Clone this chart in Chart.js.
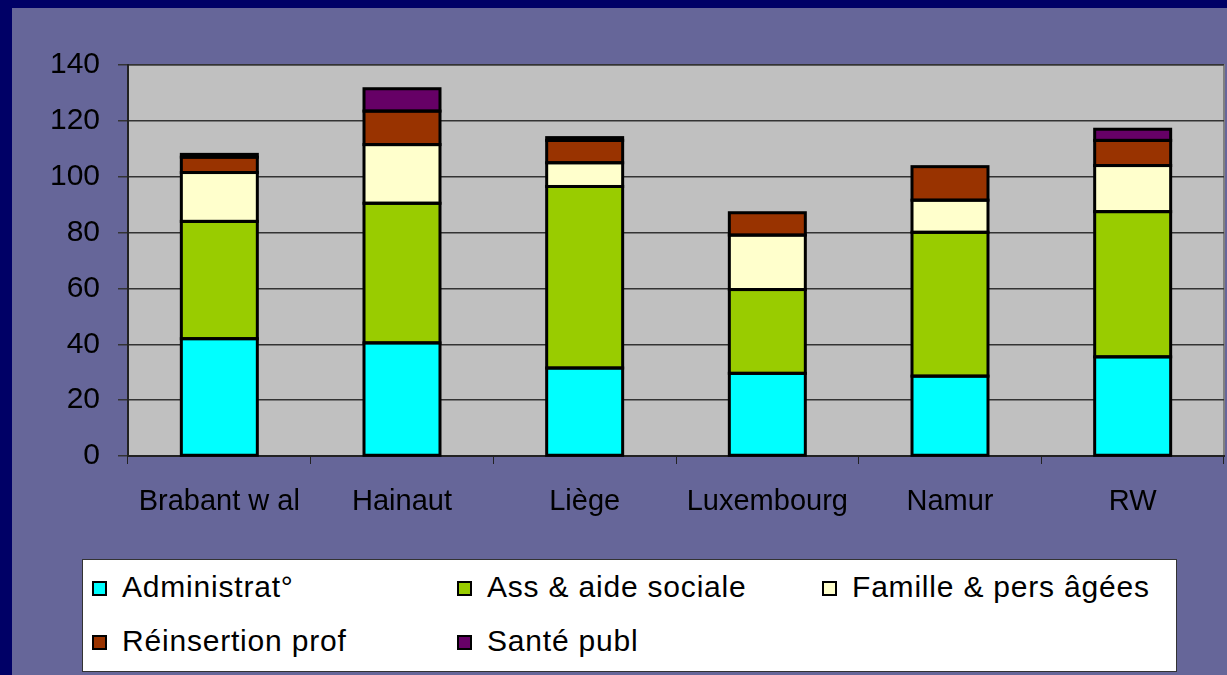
<!DOCTYPE html>
<html>
<head>
<meta charset="utf-8">
<script src="https://cdn.jsdelivr.net/npm/chart.js@4"></script>
<style>
  html, body { margin: 0; padding: 0; }
  body { width: 1227px; height: 675px; background: #000066; position: relative; overflow: hidden; font-family: "Liberation Sans", Arial, sans-serif; }
  #fond { position: absolute; left: 12px; top: 8px; right: 0; bottom: 0; background: #666699; }
  #wrap { position: absolute; left: 0; top: 0; width: 1227px; height: 675px; }
  #legende { position: absolute; left: 82px; top: 559px; width: 1093px; height: 111px; background: #fff; border: 1px solid #333; }
  .item { position: absolute; font-size: 30px; color: #000; line-height: 32px; white-space: nowrap; letter-spacing: 0.8px; }
  .item span { display: inline-block; width: 11px; height: 11px; border: 2px solid #000; margin-right: 15px; vertical-align: 1px; }
</style>
</head>
<body>
<div id="fond"></div>
<div id="wrap"><canvas id="myChart" width="1227" height="675"></canvas></div>
<div id="legende"></div>
<script>
/* données du graphique */
const provinces = ["Brabant w al", "Hainaut", "Liège", "Luxembourg", "Namur", "RW"];
const administration = [42, 40.5, 31.5, 29.6, 28.6, 35.5];
const assAideSociale = [42, 50, 65, 30, 51.5, 52];
const famillePersAgees = [17.5, 21, 8.5, 19.5, 11.5, 16.5];
const reinsertionProf = [5.5, 12, 8, 8, 12, 9];
const santePubl = [1, 8, 1, 0, 0, 4];
const yTicks = [0, 20, 40, 60, 80, 100, 120, 140];

const series = [
	{ label: "Administrat°", data: administration, color: "#00FFFF" },
	{ label: "Ass & aide sociale", data: assAideSociale, color: "#99CC00" },
	{ label: "Famille & pers âgées", data: famillePersAgees, color: "#FFFFCC" },
	{ label: "Réinsertion prof", data: reinsertionProf, color: "#993300" },
	{ label: "Santé publ", data: santePubl, color: "#660066" }
];

// fond gris de la zone de tracé
const fondGris = {
	id: "fondGris",
	beforeDraw(chart) {
		const a = chart.chartArea;
		const c = chart.ctx;
		c.save();
		c.fillStyle = "#C0C0C0";
		c.fillRect(a.left, a.top, a.right - a.left, a.bottom - a.top);
		c.strokeStyle = "#808080";
		c.lineWidth = 2;
		c.beginPath();
		c.moveTo(a.left, a.top);
		c.lineTo(a.right, a.top);
		c.lineTo(a.right, a.bottom);
		c.stroke();
		c.restore();
	}
};

// contour noir de chaque segment
const contours = {
	id: "contours",
	afterDatasetsDraw(chart) {
		const c = chart.ctx;
		c.save();
		c.strokeStyle = "#000";
		c.lineWidth = 3;
		chart.data.datasets.forEach((ds, i) => {
			chart.getDatasetMeta(i).data.forEach((bar, j) => {
				if (!ds.data[j]) return;
				const p = bar.getProps(["x", "y", "base", "width"], true);
				c.strokeRect(p.x - p.width / 2, p.y, p.width, p.base - p.y);
			});
		});
		c.restore();
	}
};

const ctx = document.getElementById("myChart").getContext("2d");
let myChart = new Chart(ctx, {
	type: "bar",
	data: {
		labels: provinces,
		datasets: series.map(s => ({
			label: s.label,
			data: s.data,
			backgroundColor: s.color,
			borderWidth: 0,
			inflateAmount: 0,
			categoryPercentage: 1,
			barPercentage: 0.416
		}))
	},
	options: {
		responsive: false,
		animation: false,
		layout: { padding: { left: 0, top: 65, right: 3, bottom: 149 } },
		plugins: { legend: { display: false }, tooltip: { enabled: false } },
		scales: {
			x: {
				stacked: true,
				offset: true,
				afterFit: s => { s.height = 70; },
				grid: { offset: true, drawOnChartArea: false, drawTicks: true, tickLength: 8, color: "#222", lineWidth: 1 },
				border: { display: true, color: "#222", width: 2 },
				ticks: { color: "#000", padding: 21, font: { family: "Liberation Sans", size: 29 } }
			},
			y: {
				stacked: true,
				min: 0,
				max: 140,
				afterFit: s => { s.width = 128; },
				afterBuildTicks: s => { s.ticks = yTicks.map(v => ({ value: v })); },
				grid: { color: "#333", lineWidth: 1.5, drawTicks: true, tickLength: 10 },
				border: { display: true, color: "#222", width: 2 },
				ticks: { color: "#000", padding: 18, font: { family: "Liberation Sans", size: 30 } }
			}
		}
	},
	plugins: [fondGris, contours]
});

// légende
const pos = [[9, 11], [374, 11], [739, 11], [9, 65], [374, 65]];
const leg = document.getElementById("legende");
series.forEach((s, i) => {
	const d = document.createElement("div");
	d.className = "item";
	d.style.left = pos[i][0] + "px";
	d.style.top = pos[i][1] + "px";
	const sw = document.createElement("span");
	sw.style.background = s.color;
	d.appendChild(sw);
	d.appendChild(document.createTextNode(s.label));
	leg.appendChild(d);
});
</script>
</body>
</html>
